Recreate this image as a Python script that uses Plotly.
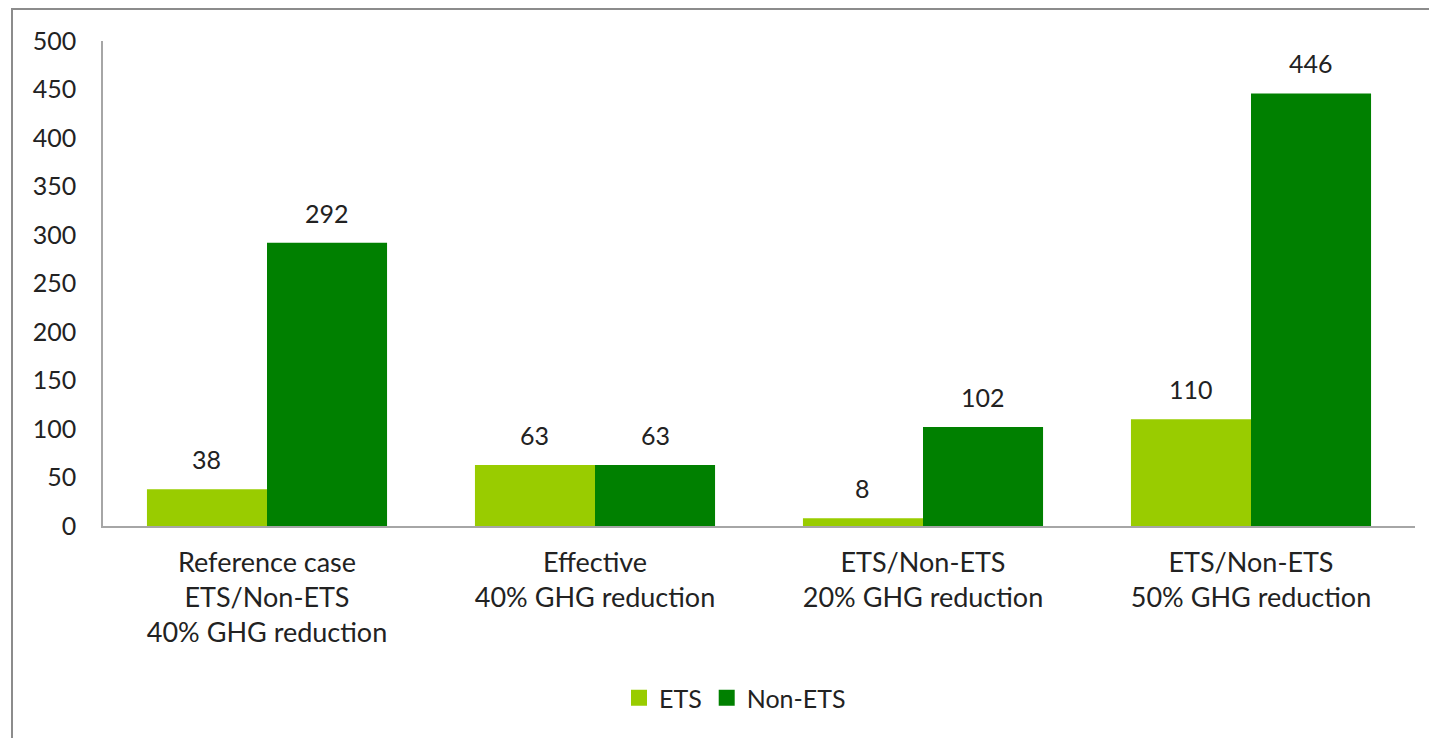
import plotly.graph_objects as go

# Scenario categories and values per sector
categories = [
    "Reference case<br>ETS/Non-ETS<br>40% GHG reduction",
    "Effective<br>40% GHG reduction",
    "ETS/Non-ETS<br>20% GHG reduction",
    "ETS/Non-ETS<br>50% GHG reduction",
]
ets_values = [38, 63, 8, 110]
non_ets_values = [292, 63, 102, 446]
y_ticks = [0, 50, 100, 150, 200, 250, 300, 350, 400, 450, 500]

ETS_COLOR = "#99CC00"
NON_ETS_COLOR = "#008000"
TEXT_COLOR = "#222222"
FONT = "Lato"
FONT_SIZE = 25

W, H = 1429, 738
M_L, M_R, M_T, M_B = 103, 14, 41, 212
plot_w = W - M_L - M_R
plot_h = H - M_T - M_B

fig = go.Figure()
series = [("ETS", ets_values, ETS_COLOR), ("Non-ETS", non_ets_values, NON_ETS_COLOR)]
for name, vals, color in series:
    fig.add_trace(go.Bar(
        x=categories, y=vals, name=name, marker_color=color,
        marker_line_width=0, showlegend=False,
    ))

# Legend entries with larger square swatches
for name, _, color in series:
    fig.add_trace(go.Scatter(
        x=[None], y=[None], mode="markers", name=name,
        marker=dict(symbol="square", size=17, color=color),
    ))

# Value labels above each bar
bargap = 0.268
bar_px = plot_w / len(categories) * (1 - bargap) / 2
for i, (name, vals, color) in enumerate(series):
    shift = (-0.5 + i) * bar_px
    for cat, v in zip(categories, vals):
        fig.add_annotation(
            x=cat, y=v, xref="x", yref="y", text=str(v), showarrow=False,
            xshift=shift, yshift=30, yanchor="middle",
            font=dict(family=FONT, size=FONT_SIZE, color=TEXT_COLOR),
        )

# Outer chart border
fig.add_shape(
    type="rect", xref="paper", yref="paper",
    x0=(12 - M_L) / plot_w, x1=(W + 20 - M_L) / plot_w,
    y0=-(H + 20 - M_T - plot_h) / plot_h, y1=1 + (M_T - 9) / plot_h,
    line=dict(color="#8c8c8c", width=2), fillcolor="rgba(0,0,0,0)", layer="above",
)

fig.update_layout(
    width=W, height=H,
    margin=dict(l=M_L, r=M_R, t=M_T, b=M_B),
    barmode="group", bargap=bargap, bargroupgap=0,
    plot_bgcolor="white", paper_bgcolor="white",
    font=dict(family=FONT, size=FONT_SIZE, color=TEXT_COLOR),
    legend=dict(
        orientation="h", x=(735 - M_L) / plot_w, xanchor="center",
        y=-(698 - M_T - plot_h) / plot_h, yanchor="middle",
        font=dict(family=FONT, size=FONT_SIZE, color=TEXT_COLOR),
        itemclick=False, bgcolor="rgba(0,0,0,0)",
    ),
    xaxis=dict(
        showline=True, linecolor="#a6a6a6", linewidth=1.5, ticks="",
        showgrid=False, ticklabelstandoff=12,
        tickfont=dict(family=FONT, size=27, color=TEXT_COLOR),
    ),
    yaxis=dict(
        range=[0, 500], tickvals=y_ticks, showline=True, linecolor="#a6a6a6",
        linewidth=1.5, ticks="", showgrid=False, zeroline=False,
        ticklabelstandoff=20,
    ),
)

fig.write_html("out.html")
